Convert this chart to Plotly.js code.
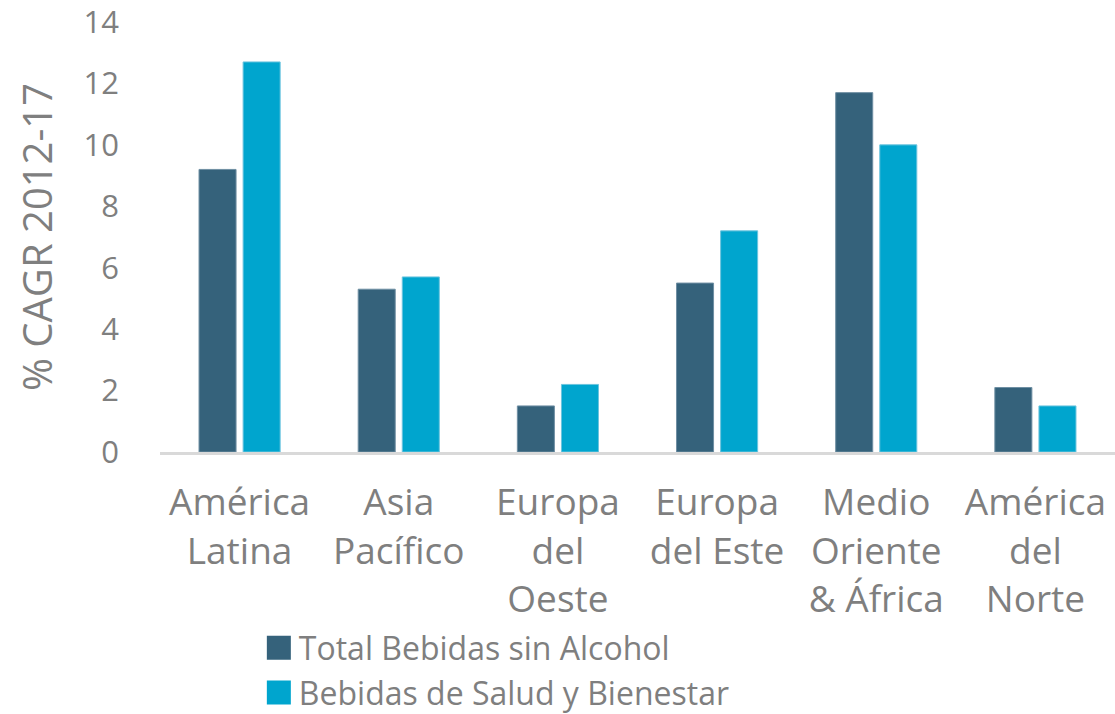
<!DOCTYPE html>
<html>
<head>
<meta charset="utf-8">
<script src="https://cdn.plot.ly/plotly-3.0.1.min.js"></script>
<style>
html,body{margin:0;padding:0;background:#fff;}
#chart{width:1115px;height:714px;}
</style>
</head>
<body>
<div id="chart"></div>
<script>
const categories = ["América<br>Latina", "Asia<br>Pacífico", "Europa<br>del<br>Oeste", "Europa<br>del Este", "Medio<br>Oriente<br>& África", "América<br>del<br>Norte"];
const seriesNames = ["Total Bebidas sin Alcohol", "Bebidas de Salud y Bienestar"];
const totalBebidas = [9.2, 5.3, 1.5, 5.5, 11.7, 2.1];
const saludBienestar = [12.7, 5.7, 2.2, 7.2, 10.0, 1.5];
const yTicks = [0, 2, 4, 6, 8, 10, 12, 14];
const yTitle = "% CAGR 2012-17";

const fontFamily = "'Open Sans', 'DejaVu Sans', sans-serif";
const textColor = "#7f7f7f";

const data = [
  {type: "bar", name: seriesNames[0], x: categories, y: totalBebidas,
   marker: {color: "#35627B", line: {color: "#6f8fa3", width: 1}}, hoverinfo: "y"},
  {type: "bar", name: seriesNames[1], x: categories, y: saludBienestar,
   marker: {color: "#00A5CE", line: {color: "#6cc4de", width: 1}}, hoverinfo: "y"}
];

const layout = {
  width: 1115, height: 714,
  margin: {l: 160, r: 0, t: 22, b: 262, autoexpand: false},
  paper_bgcolor: "#ffffff", plot_bgcolor: "#ffffff",
  font: {family: fontFamily, color: textColor, size: 33},
  barmode: "group",
  bargap: 0.446,
  bargroupgap: 0.16,
  showlegend: true,
  legend: {
    orientation: "v", x: 0.1035, xanchor: "left", y: -0.392, yanchor: "top",
    font: {size: 32, color: textColor, family: fontFamily},
    itemwidth: 30, tracegroupgap: 0, bgcolor: "rgba(0,0,0,0)"
  },
  xaxis: {
    type: "category",
    showline: true, linecolor: "#d9d9d9", linewidth: 3,
    showgrid: false, zeroline: false, ticks: "",
    tickfont: {size: 37, color: textColor, family: fontFamily},
    ticklabelstandoff: 16,
    fixedrange: true
  },
  yaxis: {
    range: [0, 14], tickvals: yTicks, ticktext: yTicks.map(String),
    showgrid: false, zeroline: false, showline: false, ticks: "",
    ticklabeloverflow: "allow",
    tickfont: {size: 31, color: textColor, family: fontFamily},
    ticklabelstandoff: 40,
    title: {text: yTitle, font: {size: 40, color: textColor, family: fontFamily}, standoff: 18},
    fixedrange: true
  }
};

Plotly.newPlot("chart", data, layout, {displayModeBar: false, staticPlot: true}).then(function (gd) {
  gd.querySelectorAll(".legend .legendpoints path").forEach(function (p) {
    p.setAttribute("d", "M12,12H-12V-12H12Z");
    p.style.strokeWidth = "0px";
  });
});
</script>
</body>
</html>
